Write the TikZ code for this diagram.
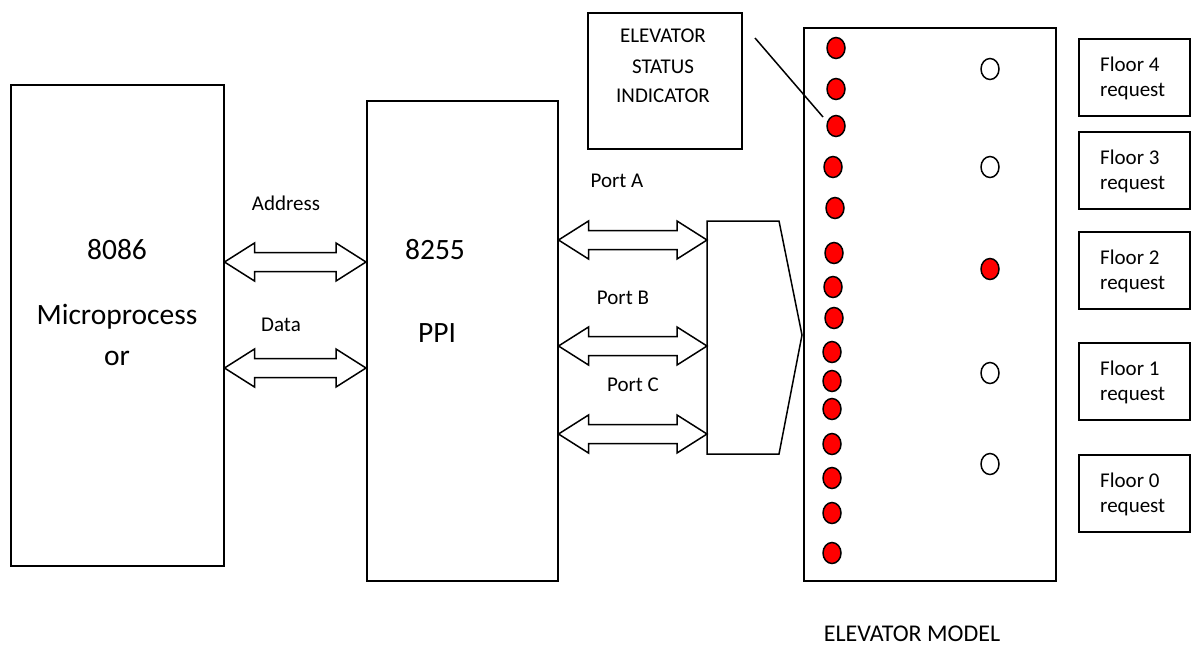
\documentclass[tikz,border=0pt]{standalone}
\usepackage{fontspec}
\setmainfont{Carlito}
\usetikzlibrary{shapes.geometric,calc}
\tikzset{
  box/.style={draw, line width=1.5pt, inner sep=0pt, anchor=north west},
  small/.style={font=\fontsize{21}{24}\selectfont, inner sep=0pt},
  big/.style={font=\fontsize{29.5}{32}\selectfont, inner sep=0pt},
  arr/.style={draw, line width=1.5pt, fill=white, line join=miter},
  rdot/.style={ellipse, draw, line width=1.5pt, fill=red, minimum width=18, minimum height=21, inner sep=0pt},
  wdot/.style={ellipse, draw, line width=1.5pt, fill=white, minimum width=18, minimum height=21, inner sep=0pt},
  fbox/.style={box, minimum width=111, minimum height=77},
  thin/.style={line width=1.5pt}
}
\newcommand\dblarr[2]{%
  \path[arr] let \p1=(#1), \p2=(#2) in
    (\x1,\y1) -- (\x1+30pt,\y1+19pt) -- (\x1+30pt,\y1+9.5pt) -- (\x2-30pt,\y1+9.5pt)
    -- (\x2-30pt,\y1+19pt) -- (\x2,\y1) -- (\x2-30pt,\y1-19pt) -- (\x2-30pt,\y1-9.5pt)
    -- (\x1+30pt,\y1-9.5pt) -- (\x1+30pt,\y1-19pt) -- cycle;}
\begin{document}
\begin{tikzpicture}[x=1pt,y=-1pt]
\useasboundingbox (0,0) rectangle (1198,646);
% 8086
\node[box, minimum width=213, minimum height=481] (cpu) at (10,84) {};
\node[big] (t8086) at (117,250) {8086};
\node[big] (tmp) at (117,317) {Microprocess};
\node[big] (tor) at (117,358) {or};
% 8255
\node[box, minimum width=191, minimum height=480] (ppi) at (366,100) {};
\node[big] (t8255) at (435,250) {8255};
\node[big] (tppi) at (437,333) {PPI};
% address/data arrows
\coordinate (a1) at (cpu.east |- 0,262);
\coordinate (a2) at (ppi.west |- 0,262);
\coordinate (d1) at (cpu.east |- 0,368);
\coordinate (d2) at (ppi.west |- 0,368);
\dblarr{a1}{a2}
\dblarr{d1}{d2}
\node[small] (taddr) at (286,203) {Address};
\node[small] (tdata) at (281,325) {Data};
% bus merge shape
\coordinate (m1) at (707,221);
\coordinate (m2) at (779,221);
\coordinate (mtip) at (802,335);
\coordinate (m3) at (779,454);
\coordinate (m4) at (707,454);
\draw[thin, line join=miter] (m1) -- (m2) -- (mtip) -- (m3) -- (m4) -- cycle;
% ports
\coordinate (pa1) at (ppi.east |- 0,240);
\coordinate (pa2) at (m1 |- 0,240);
\coordinate (pb1) at (ppi.east |- 0,346);
\coordinate (pb2) at (m1 |- 0,346);
\coordinate (pc1) at (ppi.east |- 0,434);
\coordinate (pc2) at (m1 |- 0,434);
\dblarr{pa1}{pa2}
\dblarr{pb1}{pb2}
\dblarr{pc1}{pc2}
\node[small] (tpa) at (617,181) {Port A};
\node[small] (tpb) at (623,298) {Port B};
\node[small] (tpc) at (633,385) {Port C};
% elevator model
\node[box, minimum width=252, minimum height=553] (elev) at (803,27) {};
\node[small, font=\fontsize{24}{28}\selectfont] (telev) at (912,634) {ELEVATOR MODEL};
% status indicator
\node[box, minimum width=154, minimum height=136] (stat) at (587,12) {};
\node[small] (ts1) at (663,36) {ELEVATOR};
\node[small] (ts2) at (663,67) {STATUS};
\node[small] (ts3) at (663,96) {INDICATOR};
% left dots
\foreach \x/\y [count=\i] in {836/48,836/89,836/126,833/167,835/208,834/253,833/287,834/318,832/352,832/381,832/409,832/444,832/478,832/513,832/553}
  \node[rdot] (L\i) at (\x,\y) {};
% pointer line
\coordinate (pl1) at (755,38);
\coordinate (pl2) at (823,117);
\draw[thin] (pl1) -- (pl2);
% right dots
\node[wdot] (R4) at (990,69) {};
\node[wdot] (R3) at (990,167) {};
\node[rdot] (R2) at (990,269) {};
\node[wdot] (R1) at (990,373) {};
\node[wdot] (R0) at (990,464) {};
% floor request boxes
\foreach \n/\y in {4/38,3/131,2/231,1/342,0/454}{
  \node[fbox] (F\n) at (1078,\y) {};
  \node[small, anchor=west] (F\n a) at ($(F\n.north west)+(22,26)$) {Floor \n};
  \node[small, anchor=west] (F\n b) at ($(F\n.north west)+(22,54)$) {request};
}
\end{tikzpicture}
\end{document}
